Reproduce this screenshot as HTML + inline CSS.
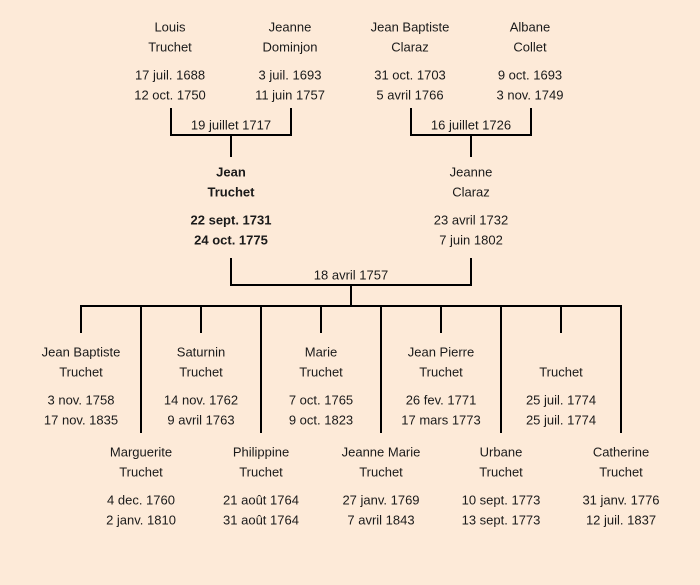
<!DOCTYPE html>
<html><head><meta charset="utf-8"><style>
html,body{margin:0;padding:0;background:#fdead8;}
svg{display:block}
text{font-family:"Liberation Sans",sans-serif;font-size:13px;fill:#1a1a1a;text-anchor:middle;dominant-baseline:central}
.b{font-weight:bold}
</style></head><body>
<svg width="700" height="585" viewBox="0 0 700 585">
<rect width="700" height="585" fill="#fdead8"/>
<g stroke="#000" stroke-width="2" fill="none">
<polyline points="171,108 171,135 291,135 291,108"/>
<line x1="231" y1="135" x2="231" y2="157"/>
<polyline points="411,108 411,135 531,135 531,108"/>
<line x1="471" y1="135" x2="471" y2="157"/>
<polyline points="231,258 231,285 471,285 471,258"/>
<line x1="351" y1="285" x2="351" y2="306"/>
<line x1="80" y1="306" x2="622" y2="306"/>
<line x1="81" y1="306" x2="81" y2="333"/>
<line x1="201" y1="306" x2="201" y2="333"/>
<line x1="321" y1="306" x2="321" y2="333"/>
<line x1="441" y1="306" x2="441" y2="333"/>
<line x1="561" y1="306" x2="561" y2="333"/>
<line x1="141" y1="306" x2="141" y2="433"/>
<line x1="261" y1="306" x2="261" y2="433"/>
<line x1="381" y1="306" x2="381" y2="433"/>
<line x1="501" y1="306" x2="501" y2="433"/>
<line x1="621" y1="306" x2="621" y2="433"/>
</g>
<g>
<text x="170" y="27">Louis</text><text x="170" y="47">Truchet</text><text x="170" y="75">17 juil. 1688</text><text x="170" y="95">12 oct. 1750</text>
<text x="290" y="27">Jeanne</text><text x="290" y="47">Dominjon</text><text x="290" y="75">3 juil. 1693</text><text x="290" y="95">11 juin 1757</text>
<text x="410" y="27">Jean Baptiste</text><text x="410" y="47">Claraz</text><text x="410" y="75">31 oct. 1703</text><text x="410" y="95">5 avril 1766</text>
<text x="530" y="27">Albane</text><text x="530" y="47">Collet</text><text x="530" y="75">9 oct. 1693</text><text x="530" y="95">3 nov. 1749</text>
<text x="231" y="125">19 juillet 1717</text>
<text x="471" y="125">16 juillet 1726</text>
<text class="b" x="231" y="172">Jean</text><text class="b" x="231" y="192">Truchet</text><text class="b" x="231" y="220">22 sept. 1731</text><text class="b" x="231" y="240">24 oct. 1775</text>
<text x="471" y="172">Jeanne</text><text x="471" y="192">Claraz</text><text x="471" y="220">23 avril 1732</text><text x="471" y="240">7 juin 1802</text>
<text x="351" y="275">18 avril 1757</text>
<text x="81" y="352">Jean Baptiste</text><text x="81" y="372">Truchet</text><text x="81" y="400">3 nov. 1758</text><text x="81" y="420">17 nov. 1835</text>
<text x="201" y="352">Saturnin</text><text x="201" y="372">Truchet</text><text x="201" y="400">14 nov. 1762</text><text x="201" y="420">9 avril 1763</text>
<text x="321" y="352">Marie</text><text x="321" y="372">Truchet</text><text x="321" y="400">7 oct. 1765</text><text x="321" y="420">9 oct. 1823</text>
<text x="441" y="352">Jean Pierre</text><text x="441" y="372">Truchet</text><text x="441" y="400">26 fev. 1771</text><text x="441" y="420">17 mars 1773</text>
<text x="561" y="372">Truchet</text><text x="561" y="400">25 juil. 1774</text><text x="561" y="420">25 juil. 1774</text>
<text x="141" y="452">Marguerite</text><text x="141" y="472">Truchet</text><text x="141" y="500">4 dec. 1760</text><text x="141" y="520">2 janv. 1810</text>
<text x="261" y="452">Philippine</text><text x="261" y="472">Truchet</text><text x="261" y="500">21 août 1764</text><text x="261" y="520">31 août 1764</text>
<text x="381" y="452">Jeanne Marie</text><text x="381" y="472">Truchet</text><text x="381" y="500">27 janv. 1769</text><text x="381" y="520">7 avril 1843</text>
<text x="501" y="452">Urbane</text><text x="501" y="472">Truchet</text><text x="501" y="500">10 sept. 1773</text><text x="501" y="520">13 sept. 1773</text>
<text x="621" y="452">Catherine</text><text x="621" y="472">Truchet</text><text x="621" y="500">31 janv. 1776</text><text x="621" y="520">12 juil. 1837</text>
</g>
</svg>
</body></html>
